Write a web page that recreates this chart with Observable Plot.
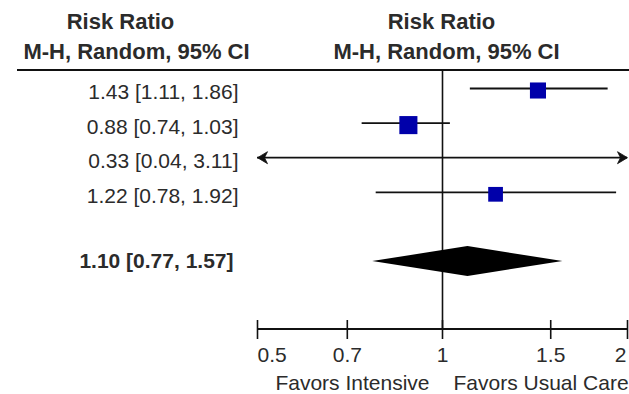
<!DOCTYPE html>
<html>
<head>
<meta charset="utf-8">
<script src="https://cdn.jsdelivr.net/npm/d3@7"></script>
<script src="https://cdn.jsdelivr.net/npm/@observablehq/plot@0.6"></script>
<style>
  html, body { margin: 0; padding: 0; background: #fff; }
  #chart svg { display: block; }
</style>
</head>
<body>
<div id="chart"></div>
<script>
// ---- data ----
const studies   = ["Study 1", "Study 2", "Study 3", "Study 4"];
const riskRatio = [1.43, 0.88, 0.33, 1.22];
const ciLow     = [1.11, 0.74, 0.04, 0.78];
const ciHigh    = [1.86, 1.03, 3.11, 1.92];
const weights   = [32.0, 40.5, 0.6, 26.9];   // estimated from square sizes
const pooledRR   = 1.10;
const pooledLow  = 0.77;
const pooledHigh = 1.57;
const tickValues = [0.5, 0.7, 1, 1.5, 2];
const tickLabels = ["0.5", "0.7", "1", "1.5", "2"];
const headerTitle  = "Risk Ratio";
const headerMethod = "M-H, Random, 95% CI";
const favorsLeft  = "Favors Intensive";
const favorsRight = "Favors Usual Care";

// ---- tables built from the arrays ----
const fmt = v => v.toFixed(2);
const rows = studies.map((s, i) => ({
  study: s, row: i + 1, rr: riskRatio[i], lo: ciLow[i], hi: ciHigh[i], w: weights[i],
  label: `${fmt(riskRatio[i])} [${fmt(ciLow[i])}, ${fmt(ciHigh[i])}]`
}));
const summaryRow = studies.length + 2;
const summary = [{row: summaryRow, label: `${fmt(pooledRR)} [${fmt(pooledLow)}, ${fmt(pooledHigh)}]`}];
const halfH = 0.43;
const diamond = [
  {x: pooledLow,  y1: summaryRow,         y2: summaryRow},
  {x: pooledRR,   y1: summaryRow - halfH, y2: summaryRow + halfH},
  {x: pooledHigh, y1: summaryRow,         y2: summaryRow}
];
const xMin = tickValues[0], xMax = tickValues[tickValues.length - 1];
const ticks = tickValues.map((v, i) => ({v, label: tickLabels[i], i}));

const arrowLeft = {draw(c) { c.moveTo(0, 0); c.lineTo(10, -6); c.lineTo(7, 0); c.lineTo(10, 6); c.closePath(); }};
const arrowRight = {draw(c) { c.moveTo(0, 0); c.lineTo(-10, -6); c.lineTo(-7, 0); c.lineTo(-10, 6); c.closePath(); }};

const FONT = "Liberation Sans, Arial, Helvetica, sans-serif";
const TXT = "#2b2b2b";

const chart = Plot.plot({
  width: 629,
  height: 394,
  marginTop: 70,
  marginBottom: 65,
  marginLeft: 257,
  marginRight: 2,
  style: {fontFamily: FONT, background: "#fff"},
  x: {type: "log", domain: [xMin, xMax], axis: null},
  y: {type: "linear", domain: [1, summaryRow], range: [88, 261], axis: null},
  r: {range: [0, 10.2]},
  marks: [
    // header line and axis line
    (index, scales, values, dim) => {
      const g = d3.create("svg:g").attr("stroke", "#111").attr("fill", "none");
      const yTop = dim.marginTop, yBot = dim.height - dim.marginBottom;
      g.append("line").attr("x1", 17).attr("x2", dim.width).attr("y1", yTop).attr("y2", yTop).attr("stroke-width", 2.2);
      g.append("line").attr("x1", scales.x(xMin)).attr("x2", scales.x(xMax)).attr("y1", yBot).attr("y2", yBot).attr("stroke-width", 1.8);
      return g.node();
    },
    Plot.ruleX([1], {stroke: "#111", strokeWidth: 1.6}),
    // confidence intervals
    Plot.ruleY(rows, {y: "row", x1: "lo", x2: "hi", stroke: "#111", strokeWidth: 1.8, clip: true}),
    Plot.dot(rows.filter(d => d.lo < xMin), {x: () => xMin, y: "row", symbol: arrowLeft, fill: "#111", stroke: "#111", strokeWidth: 0.8}),
    Plot.dot(rows.filter(d => d.hi > xMax), {x: () => xMax, y: "row", symbol: arrowRight, fill: "#111", stroke: "#111", strokeWidth: 0.8}),
    // point estimates
    Plot.dot(rows.filter(d => d.rr >= xMin && d.rr <= xMax), {x: "rr", y: "row", r: "w", symbol: "square", fill: "#0000aa", stroke: "none", dy: 2}),
    // pooled diamond
    Plot.areaY(diamond, {x: "x", y1: "y1", y2: "y2", fill: "#000", curve: "linear"}),
    // left column values
    Plot.text(rows, {y: "row", text: "label", frameAnchor: "left", lineAnchor: "middle", dx: -19, dy: 4, textAnchor: "end", fontSize: 21, fill: TXT}),
    Plot.text(summary, {y: "row", text: "label", frameAnchor: "left", lineAnchor: "middle", dx: -24, textAnchor: "end", fontSize: 21, fontWeight: "bold", fill: TXT}),
    // headers
    Plot.text([headerTitle], {text: d => d, frameAnchor: "top-left", lineAnchor: "middle", dx: -137, dy: -49, textAnchor: "middle", fontSize: 22, fontWeight: "bold", fill: TXT}),
    Plot.text([headerMethod], {text: d => d, frameAnchor: "top-left", lineAnchor: "middle", dx: -121, dy: -19, textAnchor: "middle", fontSize: 22, fontWeight: "bold", fill: TXT}),
    Plot.text([headerTitle], {x: () => 1, text: d => d, frameAnchor: "top", lineAnchor: "middle", dx: -1, dy: -49, textAnchor: "middle", fontSize: 22, fontWeight: "bold", fill: TXT}),
    Plot.text([headerMethod], {x: () => 1, text: d => d, frameAnchor: "top", lineAnchor: "middle", dx: 4, dy: -19, textAnchor: "middle", fontSize: 22, fontWeight: "bold", fill: TXT}),
    // axis ticks and labels
    Plot.tickX(ticks, {x: "v", insetTop: 250, insetBottom: -10, stroke: "#111", strokeWidth: 1.6}),
    Plot.text(ticks.filter(d => d.i === 0), {x: "v", text: "label", frameAnchor: "bottom", lineAnchor: "middle", dy: 26, textAnchor: "start", fontSize: 21, fill: TXT}),
    Plot.text(ticks.filter(d => d.i > 0 && d.i < ticks.length - 1), {x: "v", text: "label", frameAnchor: "bottom", lineAnchor: "middle", dy: 26, textAnchor: "middle", fontSize: 21, fill: TXT}),
    Plot.text(ticks.filter(d => d.i === ticks.length - 1), {x: "v", text: "label", frameAnchor: "bottom", lineAnchor: "middle", dy: 26, dx: -1, textAnchor: "end", fontSize: 21, fill: TXT}),
    Plot.text([favorsLeft], {x: () => 1, text: d => d, frameAnchor: "bottom", lineAnchor: "middle", dx: -13, dy: 54, textAnchor: "end", fontSize: 21, fill: TXT}),
    Plot.text([favorsRight], {x: () => 1, text: d => d, frameAnchor: "bottom", lineAnchor: "middle", dx: 11, dy: 54, textAnchor: "start", fontSize: 21, fill: TXT})
  ]
});
document.getElementById("chart").appendChild(chart);
</script>
</body>
</html>
